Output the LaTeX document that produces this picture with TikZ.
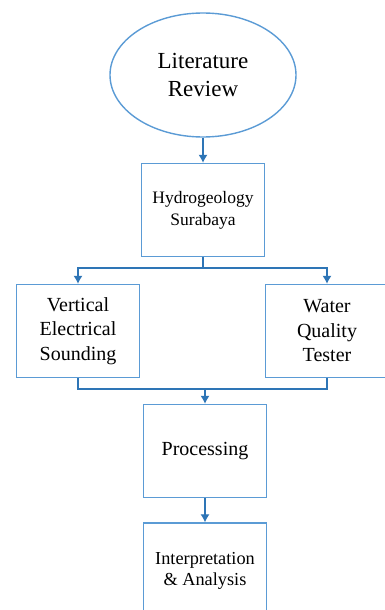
\documentclass[tikz,border=0pt]{standalone}
\usepackage{fontspec}
\setmainfont{Liberation Serif}
\usetikzlibrary{arrows.meta,positioning,shapes.geometric}
\tikzset{>={Latex[length=8pt,width=9pt]}}
\definecolor{boxblue}{HTML}{5B9BD5}
\definecolor{linkblue}{HTML}{2E75B6}

\begin{document}
\begin{tikzpicture}[x=1pt,y=-1pt,
   box/.style={draw=boxblue,line width=1.4pt,minimum width=123pt,minimum height=93pt,align=center,inner sep=0pt},
   link/.style={draw=linkblue,line width=1.1pt},
]
\useasboundingbox (0,0) rectangle (384,610);
\node[ellipse,draw=boxblue,line width=1.4pt,minimum width=186pt,minimum height=124pt,align=center,
      font=\fontsize{23}{28}\selectfont] (lit) at (203,75) {Literature\\Review};
\node[box,font=\fontsize{17.5}{22}\selectfont] (hyd) at (203,210) {Hydrogeology\\Surabaya};
\node[box,font=\fontsize{20}{24.5}\selectfont] (ves) at (78,331) {Vertical\\Electrical\\Sounding};
\node[box,font=\fontsize{20}{24.5}\selectfont] (wq) at (327,331) {Water\\Quality\\Tester};
\node[box,font=\fontsize{20}{24.5}\selectfont] (proc) at (205,451) {Processing};
\node[box,minimum height=96pt,font=\fontsize{18.3}{20.5}\selectfont] (interp) at (205,571) {Interpretation\\\& Analysis};
% connectors
\coordinate (split) at (203,268);
\coordinate (join) at (205,389);
\draw[link,->] (lit) -- (hyd);
\draw[link] (hyd) -- (split);
\draw[link,->] (split) -| (ves);
\draw[link,->] (split) -| (wq);
\draw[link] (ves) |- (join) -| (wq);
\draw[link,->] (join) -- (proc);
\draw[link,->] (proc) -- (interp);
\end{tikzpicture}
\end{document}
